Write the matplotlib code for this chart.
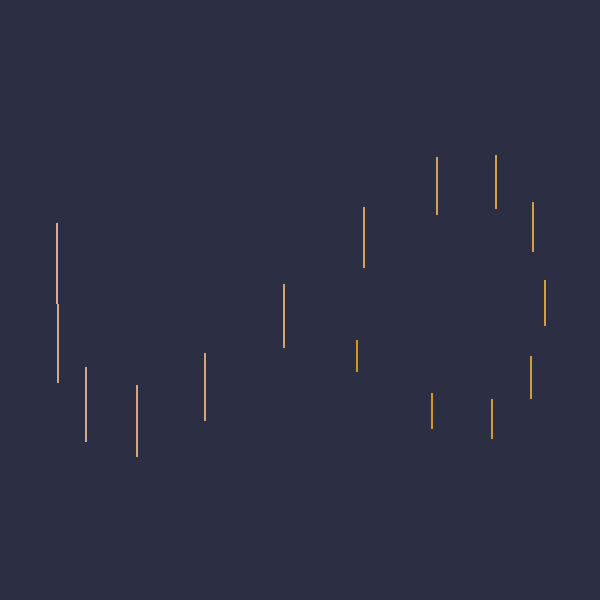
import matplotlib
matplotlib.use("Agg")
import matplotlib.pyplot as plt
from matplotlib.colors import LinearSegmentedColormap
import numpy as np

# segments in drawing order (x, low, high), y measured upward from bottom
xs = [57, 58, 86, 137, 205, 284, 364, 437, 496, 533, 545, 531, 492, 432, 357]
lows = [296, 217, 158, 143, 179, 252, 332, 385, 391, 348, 274, 201, 161, 171, 228]
highs = [377, 296, 233, 215, 247, 316, 393, 443, 445, 398, 320, 244, 201, 207, 260]

bg = "#2c2f43"
cmap = LinearSegmentedColormap.from_list("seg", ["#e8b8a6", "#e0a418"])

fig = plt.figure(figsize=(6, 6), dpi=100, facecolor=bg)
ax = fig.add_axes([0, 0, 1, 1])
ax.set_facecolor(bg)

n = len(xs)
colors = [cmap(i / (n - 1)) for i in range(n)]
ax.vlines(xs, lows, highs, colors=colors, linewidth=1.3)

ax.set_xlim(0, 600)
ax.set_ylim(0, 600)
ax.axis("off")

fig.savefig("out.png", facecolor=bg)
